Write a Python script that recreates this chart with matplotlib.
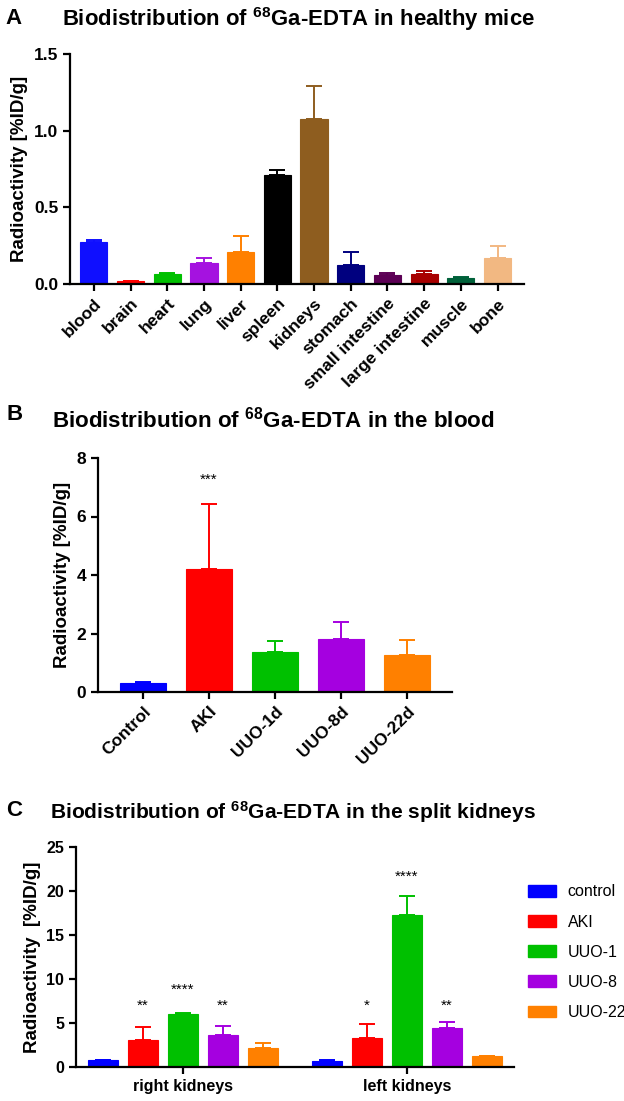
import numpy as np
import matplotlib
matplotlib.use("Agg")
import matplotlib.pyplot as plt
from matplotlib.patches import Patch

plt.rcParams['font.family'] = ['Liberation Sans', 'DejaVu Sans']
plt.rcParams['mathtext.fontset'] = 'custom'
plt.rcParams['mathtext.rm'] = 'Liberation Sans:bold'
plt.rcParams['mathtext.default'] = 'rm'

# ---- panel A data ----
organs = ['blood', 'brain', 'heart', 'lung', 'liver', 'spleen', 'kidneys',
          'stomach', 'small intestine', 'large intestine', 'muscle', 'bone']
organ_mean = [0.274, 0.017, 0.063, 0.137, 0.209, 0.713, 1.076, 0.124, 0.057, 0.067, 0.037, 0.170]
organ_sd = [0.015, 0.004, 0.009, 0.033, 0.106, 0.033, 0.217, 0.083, 0.015, 0.016, 0.006, 0.076]
organ_colors = ['#0f0fff', '#ff0000', '#00c000', '#a512e0', '#ff8000', '#000000',
                '#8e5d1f', '#00007f', '#5c0055', '#a80000', '#00613a', '#f2b882']

# ---- panel B data ----
groups_b = ['Control', 'AKI', 'UUO-1d', 'UUO-8d', 'UUO-22d']
blood_mean = [0.31, 4.22, 1.37, 1.81, 1.25]
blood_sd = [0.02, 2.20, 0.37, 0.59, 0.53]
group_colors = ['#0000ff', '#ff0000', '#00c000', '#a500e0', '#ff8000']
stars_b = ['', '***', '', '', '']

# ---- panel C data ----
sides = ['right kidneys', 'left kidneys']
groups_c = ['control', 'AKI', 'UUO-1', 'UUO-8', 'UUO-22']
right_mean = [0.76, 3.10, 6.00, 3.66, 2.15]
right_sd = [0.05, 1.43, 0.19, 1.02, 0.61]
left_mean = [0.72, 3.25, 17.26, 4.42, 1.21]
left_sd = [0.03, 1.62, 2.15, 0.75, 0.04]
right_stars = ['', '**', '****', '**', '']
left_stars = ['', '*', '****', '**', '']
right_star_y = [0, 7.0, 8.8, 7.0, 0]
left_star_y = [0, 7.0, 21.6, 7.0, 0]

W, H = 624, 1101
fig = plt.figure(figsize=(W / 100, H / 100), dpi=100)


def px_axes(x0, x1, y0, y1):
    return fig.add_axes([x0 / W, 1 - y1 / H, (x1 - x0) / W, (y1 - y0) / H])


def style(ax, size):
    for s in ['top', 'right']:
        ax.spines[s].set_visible(False)
    for s in ['left', 'bottom']:
        ax.spines[s].set_linewidth(1.6)
    ax.tick_params(width=1.6, length=5, labelsize=size, direction='out')
    for lab in ax.get_yticklabels() + ax.get_xticklabels():
        lab.set_fontweight('bold')


def draw_bars(ax, x, mean, sd, colors, width):
    ax.bar(x, mean, width=width, color=colors, edgecolor=colors, linewidth=0.8, zorder=2)
    for xi, m, s, c in zip(x, mean, sd, colors):
        ax.errorbar(xi, m, yerr=[[0], [s]], fmt='none', ecolor=c,
                    elinewidth=1.4, capsize=5.5, capthick=1.4, zorder=1)


title_kw = dict(fontweight='bold', va='center')
letter_kw = dict(fontsize=16, fontweight='bold', va='center')
ylab_kw = dict(fontsize=13.5, fontweight='bold')

# ---- A ----
axA = px_axes(70, 524, 54, 284)
xa = np.arange(len(organs))
draw_bars(axA, xa, organ_mean, organ_sd, organ_colors, 0.74)
axA.set_xlim(-0.65, 11.72)
axA.set_ylim(0, 1.5)
axA.set_yticks([0, 0.5, 1.0, 1.5])
axA.set_yticklabels(['0.0', '0.5', '1.0', '1.5'])
axA.set_xticks(xa)
axA.set_xticklabels(organs, rotation=45, ha='right', rotation_mode='anchor')
axA.set_ylabel('Radioactivity [%ID/g]', **ylab_kw)
style(axA, 12.5)
fig.text(5 / W, 1 - 18 / H, 'A', **letter_kw)
fig.text(62 / W, 1 - 19 / H, r'Biodistribution of $^{68}$Ga-EDTA in healthy mice',
         fontsize=15.9, **title_kw)

# ---- B ----
axB = px_axes(98, 452, 458, 692)
xb = np.arange(len(groups_b))
draw_bars(axB, xb, blood_mean, blood_sd, group_colors, 0.7)
for xi, st in zip(xb, stars_b):
    if st:
        axB.text(xi, 7.0, st, ha='center', va='bottom', fontsize=11)
axB.set_xlim(-0.68, 4.68)
axB.set_ylim(0, 8)
axB.set_yticks([0, 2, 4, 6, 8])
axB.set_xticks(xb)
axB.set_xticklabels(groups_b, rotation=45, ha='right', rotation_mode='anchor')
axB.set_ylabel('Radioactivity [%ID/g]', **ylab_kw)
style(axB, 12.5)
fig.text(6 / W, 1 - 415 / H, 'B', **letter_kw)
fig.text(52 / W, 1 - 420 / H, r'Biodistribution of $^{68}$Ga-EDTA in the blood',
         fontsize=16.1, **title_kw)

# ---- C ----
axC = px_axes(76, 514, 847, 1067)
xr = np.arange(len(groups_c))
gap = 5.6
xl = xr + gap
draw_bars(axC, xr, right_mean, right_sd, group_colors, 0.75)
draw_bars(axC, xl, left_mean, left_sd, group_colors, 0.75)
for xi, st, yv in zip(np.concatenate([xr, xl]), right_stars + left_stars, right_star_y + left_star_y):
    if st:
        axC.text(xi, yv, st, ha='center', va='center', fontsize=11)
axC.set_xlim(-0.675, 10.275)
axC.set_ylim(0, 25)
axC.set_yticks([0, 5, 10, 15, 20, 25])
axC.set_xticks([xr.mean(), xl.mean()])
axC.set_xticklabels(sides)
axC.set_ylabel('Radioactivity  [%ID/g]', **ylab_kw)
style(axC, 11.5)
handles = [Patch(facecolor=c, edgecolor=c, label=g) for c, g in zip(group_colors, groups_c)]
fig.legend(handles=handles, loc='upper left', bbox_to_anchor=(522 / W, 1 - 878 / H),
           frameon=False, fontsize=11.5, handlelength=1.7, handleheight=0.75,
           labelspacing=0.95, handletextpad=0.75, borderaxespad=0)
fig.text(6 / W, 1 - 810 / H, 'C', **letter_kw)
fig.text(50 / W, 1 - 812 / H, r'Biodistribution of $^{68}$Ga-EDTA in the split kidneys',
         fontsize=15.1, **title_kw)

fig.savefig('out.png', dpi=100)
